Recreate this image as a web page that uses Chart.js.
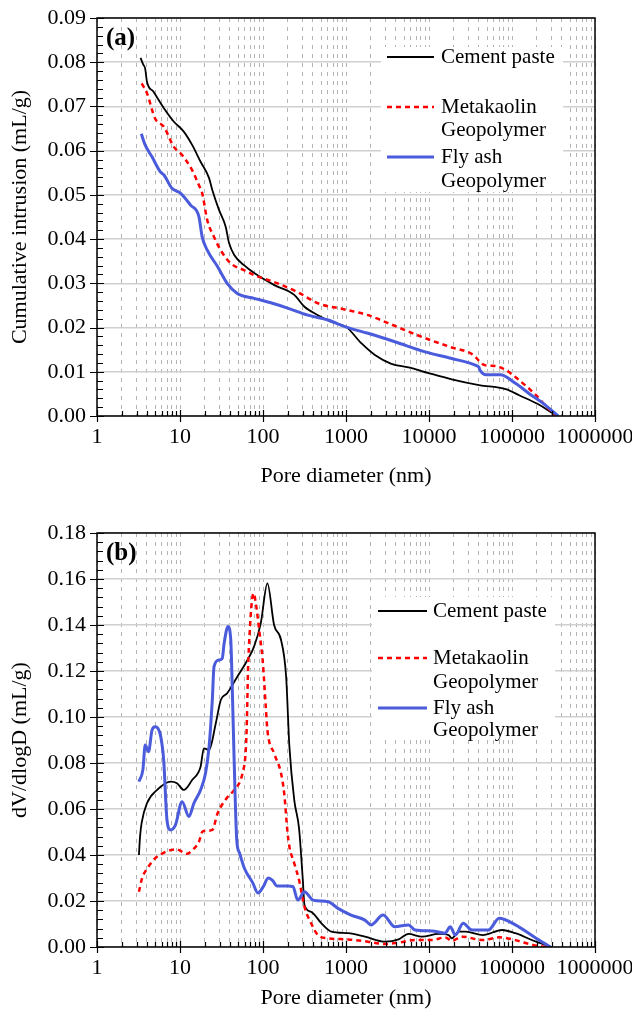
<!DOCTYPE html>
<html>
<head>
<meta charset="utf-8">
<script src="https://cdn.jsdelivr.net/npm/chart.js@4.4.0/dist/chart.umd.min.js"></script>
<style>
html, body { margin: 0; padding: 0; background: #fff; overflow: hidden; }
canvas { display: block; }
</style>
</head>
<body>
<canvas id="chartA" width="632" height="505"></canvas>
<canvas id="chartB" width="632" height="525"></canvas>
<script>
// x axis: pore diameter (nm), log scale
const xTickLabels = ["1", "10", "100", "1000", "10000", "100000", "1000000"];
const xMajorValues = [1, 10, 100, 1000, 10000, 100000, 1000000];

// (a) cumulative intrusion
const yLabelsA = ["0.00", "0.01", "0.02", "0.03", "0.04", "0.05", "0.06", "0.07", "0.08", "0.09"];
const yValuesA = [0, 0.01, 0.02, 0.03, 0.04, 0.05, 0.06, 0.07, 0.08, 0.09];

const cementA_D = [3.35, 3.6, 3.8, 4.0, 4.8, 6.4, 8.4, 11.1, 14.0, 17.7, 22.4, 24.5, 29.5, 35.5, 39, 45, 59, 80, 137, 238, 316, 459, 667, 1010, 1540, 2230, 3520, 5670, 9900, 18800, 40000, 84000, 122000, 215000, 310000, 355000];
const cementA_V = [0.0810, 0.0795, 0.0786, 0.0756, 0.0733, 0.0696, 0.0666, 0.0643, 0.0613, 0.0575, 0.0538, 0.0511, 0.0466, 0.0428, 0.0391, 0.0364, 0.0341, 0.0322, 0.0296, 0.0274, 0.0247, 0.0228, 0.0213, 0.0201, 0.0164, 0.0138, 0.0118, 0.0110, 0.0097, 0.0083, 0.0070, 0.0061, 0.0047, 0.0025, 0.0006, 0.0];

const metaA_D = [3.45, 4.0, 5.0, 6.4, 8.4, 10.6, 14.0, 16.9, 18.5, 21.3, 25.7, 30.9, 40.9, 59, 80, 150, 262, 459, 960, 1840, 3220, 5160, 9000, 18800, 33000, 47000, 63000, 84000, 122000, 195000, 260000, 340000];
const metaA_V = [0.0752, 0.0730, 0.0673, 0.0654, 0.0609, 0.0590, 0.0556, 0.0522, 0.0504, 0.0443, 0.0405, 0.0375, 0.0345, 0.0330, 0.0318, 0.0300, 0.0280, 0.0255, 0.0241, 0.0228, 0.0210, 0.0194, 0.0176, 0.0155, 0.0140, 0.0115, 0.0113, 0.0104, 0.0081, 0.0047, 0.0021, 0.0];

const flyA_D = [3.42, 3.8, 4.6, 5.8, 6.4, 8.0, 10.1, 13.4, 16.9, 18.5, 21.3, 28.3, 37, 49, 78, 124, 198, 347, 608, 1010, 1840, 3870, 9000, 18800, 36000, 40000, 41000, 52000, 72000, 110000, 160000, 235000, 360000];
const flyA_V = [0.0638, 0.0613, 0.0586, 0.0552, 0.0545, 0.0515, 0.0504, 0.0477, 0.0451, 0.0405, 0.0375, 0.0338, 0.0300, 0.0277, 0.0266, 0.0256, 0.0244, 0.0228, 0.0217, 0.0201, 0.0187, 0.0168, 0.0145, 0.0130, 0.0115, 0.0110, 0.0104, 0.0093, 0.0093, 0.0074, 0.0051, 0.0029, 0.0];

// (b) dV/dlogD
const yLabelsB = ["0.00", "0.02", "0.04", "0.06", "0.08", "0.10", "0.12", "0.14", "0.16", "0.18"];
const yValuesB = [0, 0.02, 0.04, 0.06, 0.08, 0.10, 0.12, 0.14, 0.16, 0.18];

const cementB_D = [3.2, 3.3, 3.45, 4.0, 5.3, 7.7, 9.2, 11.1, 14, 17.7, 19.4, 22.4, 27, 31, 37, 49, 65, 78, 94, 113, 136, 165, 190, 208, 238, 272, 302, 316, 380, 506, 667, 1060, 1690, 2960, 4300, 5660, 8200, 13000, 17200, 18800, 22800, 27700, 44500, 76000, 110000, 195000, 300000];
const cementB_V = [0.0400, 0.0480, 0.0540, 0.0625, 0.0683, 0.0719, 0.0712, 0.0683, 0.0726, 0.0784, 0.0864, 0.0857, 0.0973, 0.1074, 0.1103, 0.1175, 0.1248, 0.1306, 0.1407, 0.1581, 0.1400, 0.1335, 0.1175, 0.0871, 0.0639, 0.0515, 0.0291, 0.0183, 0.0153, 0.0103, 0.0067, 0.0060, 0.0045, 0.0023, 0.0033, 0.0057, 0.0045, 0.0057, 0.0052, 0.0038, 0.0067, 0.0067, 0.0052, 0.0074, 0.0060, 0.0023, 0.0];

const metaB_D = [3.2, 3.5, 4.0, 5.0, 6.0, 7.5, 9.0, 10.5, 12, 14, 17, 18.5, 20, 24.5, 28.3, 37, 45, 56.6, 62, 64, 66, 69, 73, 77, 82, 90, 99, 103, 108, 113, 136, 165, 180, 198, 208, 238, 272, 316, 380, 459, 608, 1060, 1840, 2960, 4300, 6800, 10900, 15600, 18800, 25000, 44500, 70000, 110000, 178000, 260000];
const metaB_V = [0.0240, 0.0300, 0.0340, 0.0385, 0.0405, 0.0420, 0.0425, 0.0415, 0.0405, 0.0420, 0.0460, 0.0500, 0.0505, 0.0509, 0.0580, 0.0650, 0.0683, 0.0755, 0.0857, 0.0987, 0.1204, 0.1364, 0.1494, 0.1538, 0.1494, 0.1378, 0.1248, 0.1161, 0.1045, 0.0943, 0.0842, 0.0755, 0.0668, 0.0494, 0.0436, 0.0364, 0.0291, 0.0175, 0.0103, 0.0052, 0.0038, 0.0033, 0.0023, 0.0013, 0.0019, 0.0030, 0.0030, 0.0042, 0.0027, 0.0045, 0.0030, 0.0042, 0.0030, 0.0009, 0.0];

const flyB_D = [3.2, 3.57, 3.81, 4.18, 4.6, 5.04, 5.8, 6.36, 6.97, 7.67, 8.8, 10.6, 12.8, 14.7, 17.7, 20.3, 22.4, 24.5, 25.7, 29.5, 32.3, 34, 37.9, 40.9, 42.8, 44.9, 48.3, 52, 60, 75, 87, 100, 116, 130, 148, 200, 230, 262, 316, 400, 608, 800, 1150, 1690, 2000, 2800, 3870, 5660, 6800, 10900, 15600, 18000, 20800, 25800, 33000, 52000, 70000, 110000, 195000, 290000];
const flyB_V = [0.0719, 0.0770, 0.0878, 0.0849, 0.0943, 0.0958, 0.0922, 0.0813, 0.0552, 0.0509, 0.0530, 0.0632, 0.0567, 0.0625, 0.0683, 0.0755, 0.0871, 0.1074, 0.1219, 0.1248, 0.1255, 0.1320, 0.1393, 0.1335, 0.1103, 0.0813, 0.0465, 0.0410, 0.0340, 0.0280, 0.0235, 0.0260, 0.0300, 0.0290, 0.0265, 0.0265, 0.0262, 0.0204, 0.0240, 0.0204, 0.0197, 0.0168, 0.0139, 0.0117, 0.0096, 0.0139, 0.0088, 0.0096, 0.0074, 0.0070, 0.0060, 0.0088, 0.0052, 0.0103, 0.0074, 0.0074, 0.0125, 0.0096, 0.0038, 0.0];

const seriesNames = [["Cement paste"], ["Metakaolin", "Geopolymer"], ["Fly ash", "Geopolymer"]];

const FONT = '"Liberation Serif", "Times New Roman", serif';
Chart.defaults.font.family = FONT;
Chart.defaults.color = "#000";

const toPoints = (xs, ys) => xs.map((d, i) => ({ x: d, y: ys[i] }));

// x ticks: majors at decades, minors 2..9
const xTicks = [];
xMajorValues.forEach((m, k) => {
    xTicks.push({ value: m, major: true });
    if (k < xMajorValues.length - 1) {
        for (let j = 2; j <= 9; j++) xTicks.push({ value: m * j, major: false });
    }
});

const makeYTicks = (values, minorPerMajor) => {
    const out = [];
    values.forEach((v, k) => {
        out.push({ value: v, major: true });
        if (k < values.length - 1) {
            const step = (values[k + 1] - v) / (minorPerMajor + 1);
            for (let j = 1; j <= minorPerMajor; j++) out.push({ value: v + step * j, major: false });
        }
    });
    return out;
};

// frame, tick marks and panel letter
const framePlugin = {
    id: "frame",
    afterDraw(chart, args, o) {
        const { ctx, chartArea: a, scales: { x, y } } = chart;
        ctx.save();
        ctx.strokeStyle = "#000";
        ctx.lineWidth = 1.2;
        ctx.beginPath();
        y.ticks.forEach(t => {
            const py = Math.round(y.getPixelForValue(t.value)) + 0.5;
            if (t.major) { ctx.moveTo(a.left - 7, py); ctx.lineTo(a.left + 7, py); }
            else { ctx.moveTo(a.left, py); ctx.lineTo(a.left + 6, py); }
        });
        x.ticks.forEach(t => {
            const px = Math.round(x.getPixelForValue(t.value)) + 0.5;
            if (t.major) { ctx.moveTo(px, a.bottom - 6); ctx.lineTo(px, a.bottom + 6); }
            else { ctx.moveTo(px, a.bottom - 5); ctx.lineTo(px, a.bottom); }
        });
        ctx.stroke();
        ctx.lineWidth = 1.5;
        ctx.strokeRect(a.left, a.top, a.right - a.left, a.bottom - a.top);
        ctx.font = "bold 25px " + FONT;
        ctx.fillStyle = "#000";
        ctx.textBaseline = "alphabetic";
        ctx.fillText(o.letter, a.left + 9, a.top + 27);
        ctx.restore();
    }
};

// legend box drawn inside the plot
const legendBox = {
    id: "legendBox",
    afterDatasetsDraw(chart, args, o) {
        const ctx = chart.ctx;
        ctx.save();
        ctx.fillStyle = "#fff";
        ctx.fillRect(o.box[0], o.box[1], o.box[2], o.box[3]);
        ctx.font = "21px " + FONT;
        ctx.textBaseline = "middle";
        chart.data.datasets.forEach((ds, i) => {
            const rows = o.rows[i];
            ctx.strokeStyle = ds.borderColor;
            ctx.lineWidth = ds.borderWidth;
            ctx.setLineDash(ds.borderDash || []);
            ctx.beginPath();
            ctx.moveTo(o.lineX[0], rows[0]);
            ctx.lineTo(o.lineX[1], rows[0]);
            ctx.stroke();
            ctx.setLineDash([]);
            ctx.fillStyle = "#000";
            seriesNames[i].forEach((txt, r) => ctx.fillText(txt, o.textX, rows[r]));
        });
        ctx.restore();
    }
};

const buildChart = (canvasId, cfg) => {
    const yTicks = makeYTicks(cfg.yValues, 4);
    return new Chart(document.getElementById(canvasId), {
        type: "line",
        data: {
            datasets: [
                {
                    label: "Cement paste",
                    data: toPoints(cfg.cement[0], cfg.cement[1]),
                    borderColor: "#000000",
                    borderWidth: 1.8,
                    order: 3
                },
                {
                    label: "Metakaolin Geopolymer",
                    data: toPoints(cfg.meta[0], cfg.meta[1]),
                    borderColor: "#ff0000",
                    borderWidth: 2.5,
                    borderDash: [5, 4],
                    order: 2
                },
                {
                    label: "Fly ash Geopolymer",
                    data: toPoints(cfg.fly[0], cfg.fly[1]),
                    borderColor: "#4a5bdc",
                    borderWidth: 3,
                    order: 1
                }
            ]
        },
        options: {
            responsive: false,
            animation: false,
            layout: { padding: { top: cfg.padTop, right: 37, left: 0, bottom: 0 } },
            elements: {
                point: { radius: 0 },
                line: { cubicInterpolationMode: "monotone", fill: false }
            },
            plugins: {
                legend: { display: false },
                tooltip: { enabled: false },
                frame: { letter: cfg.letter },
                legendBox: cfg.legend
            },
            scales: {
                x: {
                    type: "logarithmic",
                    min: 1,
                    max: 1000000,
                    afterBuildTicks: s => { s.ticks = xTicks.map(t => ({ ...t })); },
                    afterFit: s => { s.height = cfg.xHeight; s.paddingLeft = 0; s.paddingRight = 0; },
                    ticks: {
                        autoSkip: false,
                        maxRotation: 0,
                        minRotation: 0,
                        padding: 8,
                        font: { size: 22 },
                        callback: v => {
                            const k = xMajorValues.indexOf(v);
                            return k >= 0 ? xTickLabels[k] : "";
                        }
                    },
                    grid: { drawTicks: false, color: "#b4b4b4", lineWidth: 1 },
                    border: { display: false, dash: [4, 5] },
                    title: {
                        display: true,
                        text: "Pore diameter (nm)",
                        font: { size: 22 },
                        padding: { top: 0, bottom: cfg.titlePad }
                    }
                },
                y: {
                    min: 0,
                    max: cfg.yValues[cfg.yValues.length - 1],
                    afterBuildTicks: s => { s.ticks = yTicks.map(t => ({ ...t })); },
                    afterFit: s => { s.width = 97; s.paddingTop = 0; s.paddingBottom = 0; },
                    ticks: {
                        autoSkip: false,
                        padding: 11,
                        font: { size: 22 },
                        callback: v => {
                            const k = cfg.yValues.findIndex(m => Math.abs(m - v) < 1e-9);
                            return k >= 0 ? cfg.yLabels[k] : "";
                        }
                    },
                    grid: {
                        drawTicks: false,
                        lineWidth: 1.5,
                        color: c => (c.tick && c.tick.major ? "#cfcfcf" : "rgba(0,0,0,0)")
                    },
                    border: { display: false },
                    title: {
                        display: true,
                        text: cfg.yTitle,
                        font: { size: 22 },
                        padding: { top: 7, bottom: 0 }
                    }
                }
            }
        },
        plugins: [legendBox, framePlugin]
    });
};

buildChart("chartA", {
    letter: "(a)",
    yTitle: "Cumulative intrusion (mL/g)",
    yValues: yValuesA,
    yLabels: yLabelsA,
    cement: [cementA_D, cementA_V],
    meta: [metaA_D, metaA_V],
    fly: [flyA_D, flyA_V],
    padTop: 18,
    xHeight: 89,
    titlePad: 16,
    legend: { box: [381, 47, 182, 145], lineX: [387, 434], textX: 441, rows: [[57], [107, 130], [157, 181]] }
});

buildChart("chartB", {
    letter: "(b)",
    yTitle: "dV/dlogD (mL/g)",
    yValues: yValuesB,
    yLabels: yLabelsB,
    cement: [cementB_D, cementB_V],
    meta: [metaB_D, metaB_V],
    fly: [flyB_D, flyB_V],
    padTop: 28,
    xHeight: 83,
    titlePad: 19,
    legend: { box: [372, 92, 183, 143], lineX: [378, 427], textX: 433, rows: [[106], [153, 177], [203, 225]] }
});
</script>
</body>
</html>
